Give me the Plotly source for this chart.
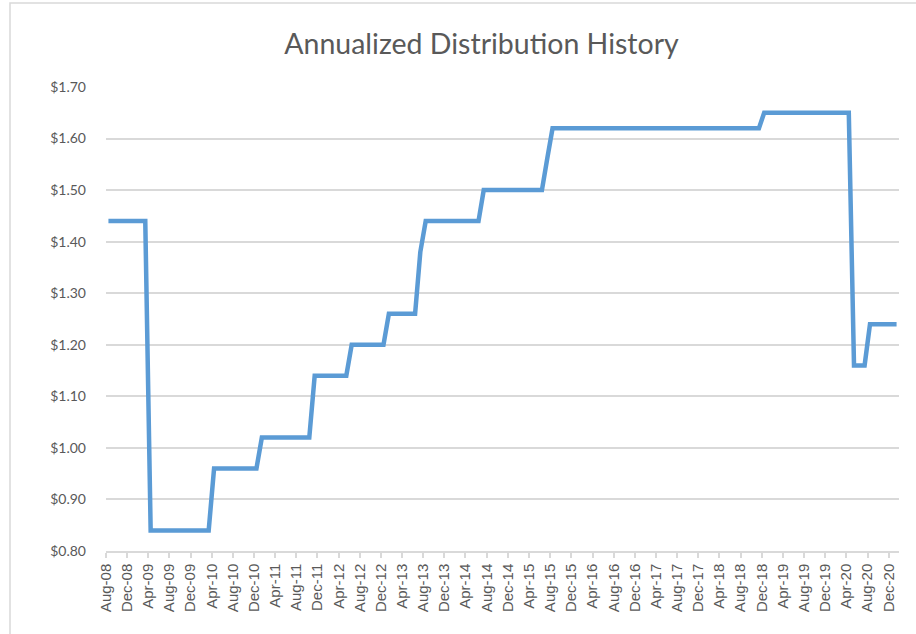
import pandas as pd
import plotly.graph_objects as go

# Annualized distribution, one value per month, Aug-2008 .. Jan-2021
distribution = [
    1.44, 1.44, 1.44, 1.44, 1.44,                                           # 2008 Aug-Dec
    1.44, 1.44, 1.44, 0.84, 0.84, 0.84, 0.84, 0.84, 0.84, 0.84, 0.84, 0.84,   # 2009
    0.84, 0.84, 0.84, 0.96, 0.96, 0.96, 0.96, 0.96, 0.96, 0.96, 0.96, 0.96,   # 2010
    1.02, 1.02, 1.02, 1.02, 1.02, 1.02, 1.02, 1.02, 1.02, 1.02, 1.14, 1.14,   # 2011
    1.14, 1.14, 1.14, 1.14, 1.14, 1.20, 1.20, 1.20, 1.20, 1.20, 1.20, 1.20,   # 2012
    1.26, 1.26, 1.26, 1.26, 1.26, 1.26, 1.38, 1.44, 1.44, 1.44, 1.44, 1.44,   # 2013
    1.44, 1.44, 1.44, 1.44, 1.44, 1.44, 1.50, 1.50, 1.50, 1.50, 1.50, 1.50,   # 2014
    1.50, 1.50, 1.50, 1.50, 1.50, 1.50, 1.56, 1.62, 1.62, 1.62, 1.62, 1.62,   # 2015
    1.62, 1.62, 1.62, 1.62, 1.62, 1.62, 1.62, 1.62, 1.62, 1.62, 1.62, 1.62,   # 2016
    1.62, 1.62, 1.62, 1.62, 1.62, 1.62, 1.62, 1.62, 1.62, 1.62, 1.62, 1.62,   # 2017
    1.62, 1.62, 1.62, 1.62, 1.62, 1.62, 1.62, 1.62, 1.62, 1.62, 1.62, 1.65,   # 2018
    1.65, 1.65, 1.65, 1.65, 1.65, 1.65, 1.65, 1.65, 1.65, 1.65, 1.65, 1.65,   # 2019
    1.65, 1.65, 1.65, 1.65, 1.16, 1.16, 1.16, 1.24, 1.24, 1.24, 1.24, 1.24,   # 2020
    1.24,                                                                   # 2021 Jan
]
first_month = "2008-08-01"
months = pd.date_range(first_month, periods=len(distribution), freq="MS") + pd.Timedelta(days=14)

title_text = "Annualized Distribution History"
y_ticks = [0.80, 0.90, 1.00, 1.10, 1.20, 1.30, 1.40, 1.50, 1.60, 1.70]

W, H = 916, 634
L, R, T, B = 106, 17, 87, 83

fig = go.Figure()
fig.add_trace(go.Scatter(
    x=months, y=distribution, mode="lines",
    line=dict(color="#5B9BD5", width=4.5),
    hoverinfo="skip", showlegend=False,
))

grey = "#D9D9D9"
text_grey = "#595959"

fig.update_layout(
    width=W, height=H,
    margin=dict(l=L, r=R, t=T, b=B, pad=0),
    paper_bgcolor="white", plot_bgcolor="white",
    title=dict(text=title_text, x=481.5 / W, xref="container", xanchor="center",
               y=1 - 44 / H, yref="container", yanchor="middle",
               font=dict(family="Lato", size=28.5, color=text_grey)),
    xaxis=dict(
        type="date", range=["2008-08-01", "2021-01-29"],
        tick0=first_month, dtick="M4", tickformat="%b-%y", tickangle=-90,
        showgrid=False, showline=True, linecolor=grey, linewidth=1.5,
        ticks="outside", ticklen=5, tickcolor=grey, tickwidth=1.5,
        tickfont=dict(family="Liberation Sans", size=15, color=text_grey),
        zeroline=False,
    ),
    yaxis=dict(
        range=[0.80, 1.70], tickvals=y_ticks, tickformat="$.2f",
        showgrid=True, gridcolor=grey, gridwidth=1.5,
        showline=False, zeroline=False, ticks="", ticklabelstandoff=19,
        tickfont=dict(family="Lato", size=14, color=text_grey),
    ),
)

# light chart-area border (Excel style), top and left visible
px_to_xp = lambda px: (px - L) / (W - L - R)
py_to_yp = lambda py: (H - B - py) / (H - T - B)
fig.add_shape(type="rect", xref="paper", yref="paper",
              x0=px_to_xp(10), x1=px_to_xp(W + 40), y0=py_to_yp(H + 40), y1=py_to_yp(3),
              line=dict(color=grey, width=1.5), fillcolor="rgba(0,0,0,0)", layer="below")

fig.write_html("out.html", config={"displayModeBar": False},
               post_script="document.body.style.margin='0px';document.body.style.overflow='hidden';")
